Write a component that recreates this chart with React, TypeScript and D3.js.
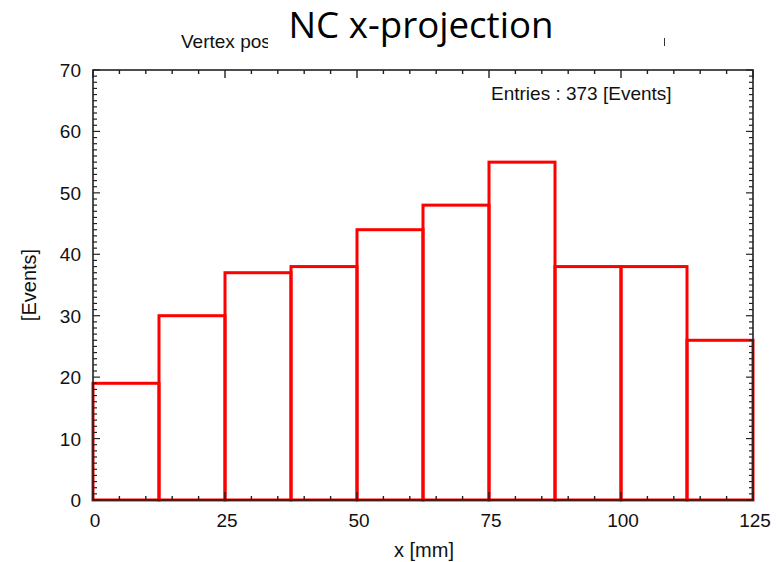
import React from "react";
import * as d3 from "d3";

const binEdgesStart = [0, 12.5, 25, 37.5, 50, 62.5, 75, 87.5, 100, 112.5];
const binWidth = 12.5;
const counts = [19, 30, 37, 38, 44, 48, 55, 38, 38, 26];
const xTicks = [0, 25, 50, 75, 100, 125];
const yTicks = [0, 10, 20, 30, 40, 50, 60, 70];
const titleText = "NC x-projection";
const subText = "Vertex pos";
const entriesText = "Entries : 373 [Events]";
const xLabel = "x [mm]";
const yLabel = "[Events]";

const W = 776, H = 562;
const L = 93, R = 753, T = 70, B = 500;

export default function App() {
  const x = d3.scaleLinear().domain([0, 125]).range([L, R]);
  const y = d3.scaleLinear().domain([0, 70]).range([B, T]);
  const xMinor = d3.range(0, 125.001, 5);
  const yMinor = d3.range(0, 70.001, 1);
  const font = "'Liberation Sans', Arial, Helvetica, sans-serif";
  return (
    <svg width={W} height={H} style={{ position: "absolute", left: 0, top: 0, background: "#fff" }}>
      <defs>
        <clipPath id="subclip">
          <rect x={170} y={20} width={98} height={40} />
        </clipPath>
      </defs>
      <rect x={0} y={0} width={W} height={H} fill="#fff" />
      {/* bars */}
      {binEdgesStart.map((s, i) => (
        <rect key={i} x={x(s)} y={y(counts[i])} width={x(s + binWidth) - x(s)} height={y(0) - y(counts[i])}
          fill="none" stroke="#ff0000" strokeWidth={3} />
      ))}
      {/* frame */}
      <rect x={L} y={T} width={R - L} height={B - T} fill="none" stroke="#222" strokeWidth={1.6} />
      {/* x ticks */}
      {xMinor.map((v, i) => {
        const major = v % 25 === 0;
        const len = major ? 8 : 4;
        return (
          <g key={"xm" + i} stroke="#222" strokeWidth={1.4}>
            <line x1={x(v)} x2={x(v)} y1={B} y2={B - len} />
            <line x1={x(v)} x2={x(v)} y1={T} y2={T + len} />
          </g>
        );
      })}
      {yMinor.map((v, i) => {
        const major = v % 10 === 0;
        const len = major ? 7 : 4;
        return (
          <g key={"ym" + i} stroke="#222" strokeWidth={1.2}>
            <line x1={L} x2={L + len} y1={y(v)} y2={y(v)} />
            <line x1={R} x2={R - len} y1={y(v)} y2={y(v)} />
          </g>
        );
      })}
      {/* tick labels */}
      {xTicks.map((v) => (
        <text key={"xt" + v} x={x(v) + 2} y={527} textAnchor="middle" fontFamily={font} fontSize={19} fill="#111">{v}</text>
      ))}
      {yTicks.map((v) => (
        <text key={"yt" + v} x={81} y={y(v) + 7} textAnchor="end" fontFamily={font} fontSize={19} fill="#111">{v}</text>
      ))}
      {/* axis labels */}
      <text x={424} y={557} textAnchor="middle" fontFamily={font} fontSize={20} fill="#111">{xLabel}</text>
      <text transform={`translate(36,${285}) rotate(-90)`} textAnchor="middle" fontFamily={font} fontSize={20} fill="#111">{yLabel}</text>
      <text x={491} y={100} fontFamily={font} fontSize={19} fill="#111">{entriesText}</text>
      {/* subtitle partially covered */}
      <g clipPath="url(#subclip)">
        <text x={181} y={48} fontFamily={font} fontSize={19} fill="#111">{subText}</text>
      </g>
      <line x1={664.5} x2={664.5} y1={38} y2={46} stroke="#333" strokeWidth={1} />
      <text x={421} y={38} textAnchor="middle" fontFamily="'Open Sans', 'Noto Sans', sans-serif" fontSize={36}
        textLength={265} lengthAdjust="spacingAndGlyphs" fill="#000">{titleText}</text>
    </svg>
  );
}
